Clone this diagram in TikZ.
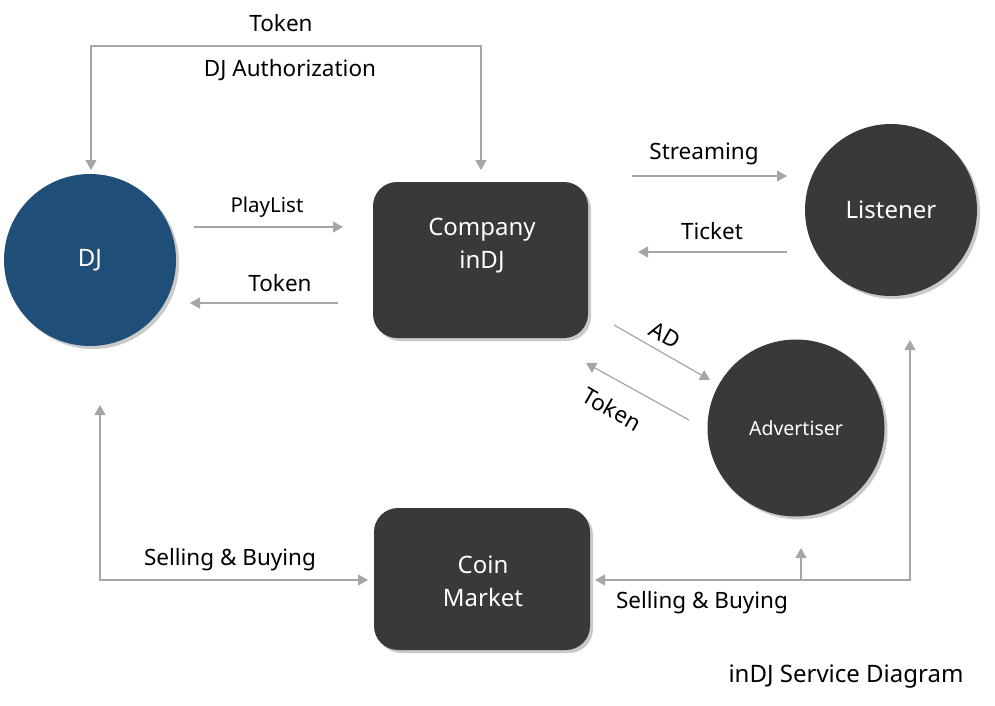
\documentclass[tikz,border=0pt]{standalone}
\usepackage{fontspec}
\setmainfont{Noto Sans}
\usetikzlibrary{arrows.meta,shadows}
\definecolor{djblue}{HTML}{1F4E79}
\definecolor{darkbox}{HTML}{3A3838}
\definecolor{arrgray}{HTML}{A6A6A6}
\tikzset{
  conn/.style={draw=arrgray, line width=1.2pt, -{Triangle[length=10pt,width=11pt]}},
  conn2/.style={draw=arrgray, line width=1.2pt, {Triangle[length=10pt,width=11pt]}-{Triangle[length=10pt,width=11pt]}},
  lbl/.style={font=\fontsize{22.5}{26}\selectfont, text=black, inner sep=0pt},
  shad/.style={drop shadow={shadow xshift=3pt, shadow yshift=-3pt, opacity=0.35, fill=black!60}},
  circ/.style={circle, minimum size=172pt, inner sep=0pt, text=white, shad, font=\fontsize{24}{28}\selectfont},
  boxn/.style={rectangle, rounded corners=24pt, fill=darkbox, shad, inner sep=0pt},
  boxtxt/.style={text=white, align=center, font=\fontsize{24}{33}\selectfont, inner sep=0pt},
}
\begin{document}
\begin{tikzpicture}[x=1pt,y=-1pt]
\useasboundingbox (0,0) rectangle (995,705);
% nodes
\node[circ, fill=djblue] (dj) at (90,260) {DJ};
\node[boxn, minimum width=215pt, minimum height=156pt] (company) at (480.5,260) {};
\node[boxtxt] (companytxt) at (482,246) {Company\\inDJ};
\node[circ, fill=darkbox] (listener) at (891,210) {Listener};
\node[circ, fill=darkbox, minimum size=177pt, font=\fontsize{19.5}{23}\selectfont] (adv) at (796,428) {Advertiser};
\node[boxn, minimum width=216pt, minimum height=142pt] (coin) at (482,579) {};
\node[boxtxt] (cointxt) at (483,581) {Coin\\Market};
% coordinates
\coordinate (t1) at (91,170);
\coordinate (t2) at (481,170);
\coordinate (pl1) at (194,227);
\coordinate (pl2) at (343,227);
\coordinate (tk1) at (338,303);
\coordinate (tk2) at (190,303);
\coordinate (st1) at (632,176);
\coordinate (st2) at (787,176);
\coordinate (ti1) at (787,252);
\coordinate (ti2) at (638,252);
\coordinate (ad1) at (614,325);
\coordinate (ad2) at (710,380);
\coordinate (ta1) at (689,420);
\coordinate (ta2) at (586,363);
\coordinate (sb1) at (100,405);
\coordinate (sb2) at (368,580);
\coordinate (sr1) at (595,580);
\coordinate (sr2) at (910,340);
\coordinate (br1) at (801,580);
\coordinate (br2) at (801,548);
% connectors
\draw[conn2] (t1) -- (91,46) -- (481,46) -- (t2);
\draw[conn] (pl1) -- (pl2);
\draw[conn] (tk1) -- (tk2);
\draw[conn] (st1) -- (st2);
\draw[conn] (ti1) -- (ti2);
\draw[conn] (ad1) -- (ad2);
\draw[conn] (ta1) -- (ta2);
\draw[conn2] (sb1) -- (100,580) -- (sb2);
\draw[conn2] (sr1) -- (910,580) -- (sr2);
\draw[conn] (br1) -- (br2);
% labels
\node[lbl] (lt) at (281,23) {Token};
\node[lbl] (lda) at (290,70) {DJ Authorization};
\node[lbl, font=\fontsize{20.5}{24}\selectfont] (lpl) at (267,207) {PlayList};
\node[lbl] (ltk) at (280,283) {Token};
\node[lbl] (lst) at (704,154) {Streaming};
\node[lbl] (lti) at (712,231) {Ticket};
\node[lbl, rotate=-30] (lad) at (665,335) {AD};
\node[lbl, rotate=-30] (lta) at (612,409) {Token};
\node[lbl] (lsb) at (230,560) {Selling \& Buying};
\node[lbl] (lsr) at (702,603) {Selling \& Buying};
\node[lbl, font=\fontsize{24}{28}\selectfont] (cap) at (846,677) {inDJ Service Diagram};
\end{tikzpicture}
\end{document}
